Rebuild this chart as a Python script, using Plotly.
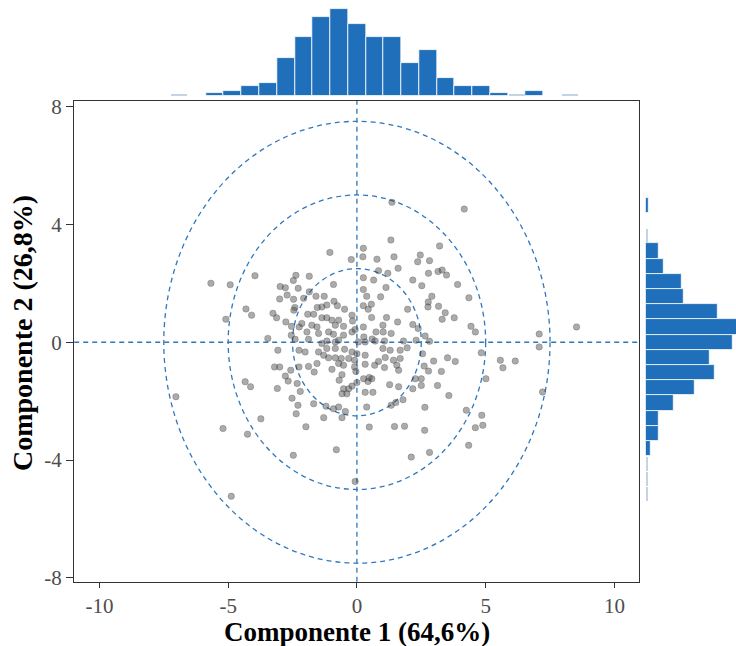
import plotly.graph_objects as go

# ---------------- data ----------------
pc1 = [
    -5.67, -4.92, -3.96, -2.37, -2.47, -2.98, -2.78, -2.28, -2.71, -3.00, -2.46, -2.41, -2.45, -4.31, -4.09, -5.09,
    -3.26, -3.12, -2.76, -2.54, -2.24, -2.55, -3.46, -2.40,
    1.36, 1.32, -1.05, 0.25, 0.23, -0.22, 0.78, 1.44, 1.60, 0.84, 1.20, 0.65, 0.25, 2.46, 3.21, 2.36, 2.82, 2.78,
    3.15, 3.31, 3.48, 2.17, 2.52, 1.13, 0.92, 0.25, 0.38, 0.25, 0.56, 0.44, 0.57, 1.15, 1.58, 1.97, 2.91, 2.77,
    2.76, 3.17, 3.43, 3.31, 2.17, 2.38, 2.65, 2.82, 2.30, 1.81, 1.01, 1.02, 1.33, 0.74, 0.25, 0.27, 0.59, -0.17,
    -0.19, -0.48, -0.76, -0.91, -1.85, -1.85, -1.59, -1.27, -2.07, -0.89, -1.17, -1.36, -1.54, -1.91, -1.68, -1.36,
    -1.17, -0.97, -0.71, -2.14, -1.75, -1.55, -0.84, -0.52, -1.94, -1.49, -1.10, -0.91, -0.52, -0.19, -0.07, -1.88,
    -1.17, -0.71, 0.32, 0.71, 1.07,
    4.17, 3.91, 4.35, 3.78, 4.43, 4.60, 7.08, 8.53, 7.08,
    -3.07, -2.25, -3.20, -3.00, -2.57, -2.78, -2.67, -2.32, -3.09, -4.34, -4.13, -7.03, -2.52, -2.29, -2.36, -3.73,
    -5.20, -4.25, -2.47, -4.88, -2.20, -2.25,
    -1.68, -1.20, -0.91, -0.71, -0.45, -1.29, -0.58, -1.98, -0.80, -0.07, 0.48, 1.46, 1.85, 2.63, 2.82, 2.11,
    0.38, 1.33, 1.51, 1.79, 2.64, 3.57, 3.13, 2.50, 2.17, 2.27, 2.50, 2.61, 2.78, 2.98, 3.28, 3.52, 2.55, 1.27,
    1.62, 0.62, 0.32, 1.07, 0.69, 0.32, 0.84, 1.10, 1.42, 1.55, 1.62, 1.68, 1.29, 1.68, 1.01, 1.95, 0.58, 0.48,
    0.26, 0.43, 0.00, -0.19, -0.32, -0.52, -0.39, -0.58, -0.69, -0.58, -0.97, -0.71, -0.52, -0.09, -0.04, -0.09,
    -0.32, -0.61, -1.10, -0.84, -1.29, -1.55, -1.88, -1.66, -1.49, -2.01, -1.17, -0.84, -0.48, -0.19, 0.00, 0.32,
    4.83, 5.57, 6.15, 5.67, 3.82, 5.01, 4.25, 4.85, 4.60, 4.89, 4.34, 7.21, -1.36, -0.84, 0.06,
]
pc2 = [
    2.00, 1.95, 2.26, 2.27, 2.10, 1.89, 1.85, 1.83, 1.60, 1.47, 1.46, 1.18, 1.09, 1.13, 0.92, 0.78,
    0.98, 0.83, 0.69, 0.54, 0.52, 0.24, 0.13, 0.10,
    4.75, 3.47, 3.05, 3.19, 2.90, 2.81, 2.82, 2.90, 2.51, 2.43, 2.34, 2.11, 2.19, 2.96, 3.27, 2.73, 2.77, 2.34,
    2.40, 2.45, 2.28, 2.11, 1.92, 1.86, 1.54, 1.79, 1.56, 1.24, 1.29, 1.12, 0.84, 0.84, 0.69, 1.12, 1.56, 1.37,
    1.20, 1.22, 1.00, 0.78, 0.60, 0.47, 0.21, 0.03, 0.07, 0.04, 0.58, 0.35, 0.30, 0.35, 0.52, 0.18, 0.11, 0.72,
    0.92, 1.12, 1.24, 1.96, 2.24, 1.71, 1.56, 1.56, 1.49, 1.39, 1.26, 1.20, 1.18, 0.95, 0.95, 0.83,
    0.83, 0.75, 0.75, 0.64, 0.58, 0.52, 0.58, 0.54, 0.35, 0.30, 0.35, 0.27, 0.24, 0.35, 0.43, 0.10,
    0.04, 0.07, 0.01, 0.04, 0.04,
    4.52, 1.96, 1.51, 0.83, 0.54, 0.35, 0.28, 0.52, -0.16,
    -0.27, -0.27, -0.84, -0.84, -0.95, -1.15, -1.32, -1.40, -1.57, -1.34, -1.51, -1.85, -1.90, -2.14, -2.43, -2.60,
    -2.93, -3.12, -3.84, -5.23, -1.67, -0.84,
    -2.09, -2.17, -2.26, -2.20, -2.35, -2.56, -2.56, -2.87, -3.65, -4.73, -2.88, -2.86, -2.85, -2.99, -3.74, -3.90,
    -2.20, -2.14, -2.05, -1.95, -2.21, -1.81, -1.47, -1.47, -1.58, -1.24, -1.24, -0.81, -0.98, -0.64, -0.99, -0.53, -0.39, -1.44,
    -1.51, -1.70, -1.70, -0.86, -0.78, -0.75, -0.65, -0.52, -0.61, -0.78, -0.95, -0.55, -0.27, -0.27, -0.21, -0.19, -1.24, -1.20,
    -1.24, -1.33, -1.37, -1.49, -1.58, -1.58, -1.75, -1.75, -1.29, -1.10, -0.92, -0.72, -0.78, -0.84, -0.99, -0.61,
    -0.55, -0.55, -0.53, -0.53, -0.44, -0.72, -0.82, -1.01, -0.33, -0.33, -0.21, -0.21, -0.24, -0.33, -0.39, -0.44,
    -0.36, -0.61, -0.64, -0.87, -0.65, -1.24, -2.31, -2.48, -2.90, -2.82, -3.50, -1.69, -0.04, 0.01, 0.01,
]

# marginal histogram of Componente 1 (bin centres and counts)
top_centers = [-5.52, -4.83, -4.14, -3.45, -2.76, -2.07, -1.38, -0.69, 0.00, 0.69, 1.38, 2.07,
               2.76, 3.45, 4.14, 4.83, 5.52, 6.90]
top_counts = [1, 2, 4, 5, 15, 23, 31, 34, 28, 23, 23, 13, 18, 7, 4, 4, 1, 2]
top_faint_centers = [-6.90, 6.21, 8.28]

# marginal histogram of Componente 2
right_centers = [4.64, 3.10, 2.58, 2.06, 1.55, 1.03, 0.52, 0.00, -0.52, -1.03, -1.55, -2.06,
                 -2.58, -3.10, -3.61]
right_counts = [1, 5, 7, 14, 15, 28, 38, 34, 25, 27, 19, 11, 5, 5, 2]
right_faint_centers = [3.61, -4.13, -4.64, -5.16]

radii = [2.5, 5.0, 7.5]

x_ticks = [-10, -5, 0, 5, 10]
x_ticktext = ["-10", "-5", "0", "5", "10"]
y_ticks = [-8, -4, 0, 4, 8]
y_ticktext = ["-8", "-4", "0", "4", "8"]

x_title = "Componente 1 (64,6%)"
y_title = "Componente 2 (26,8%)"

# ---------------- styling ----------------
W, H = 736, 646
BLUE = "#1f6fba"
FAINT = "#c3d4e6"
DASH = "#2f78bd"
SERIF = "Liberation Serif, Times New Roman, serif"

main_x_dom = [74.2 / W, 638.6 / W]
main_y_dom = [1 - 581.7 / H, 1 - 101 / H]
top_y_dom = [1 - 96 / H, 1.0]
right_x_dom = [645.7 / W, 1.0]

fig = go.Figure()

fig.add_trace(go.Scatter(
    x=pc1, y=pc2, mode="markers", xaxis="x", yaxis="y",
    marker=dict(size=6.5, color="rgba(68,68,68,0.45)", line=dict(width=0.6, color="rgba(50,50,50,0.4)")),
    hoverinfo="x+y", showlegend=False,
))

fig.add_trace(go.Bar(
    x=top_centers, y=top_counts, xaxis="x2", yaxis="y2", width=0.69,
    marker=dict(color=BLUE, line=dict(color="white", width=0.8)), showlegend=False,
))
fig.add_trace(go.Bar(
    x=top_faint_centers, y=[0.5] * len(top_faint_centers), xaxis="x2", yaxis="y2", width=0.62,
    marker=dict(color=FAINT, line=dict(width=0)), showlegend=False,
))
fig.add_trace(go.Bar(
    y=right_centers, x=right_counts, orientation="h", xaxis="x3", yaxis="y3", width=0.516,
    marker=dict(color=BLUE, line=dict(color="white", width=0.8)), showlegend=False,
))
fig.add_trace(go.Bar(
    y=right_faint_centers, x=[0.4] * len(right_faint_centers), orientation="h", xaxis="x3", yaxis="y3",
    width=0.46, marker=dict(color=FAINT, line=dict(width=0)), showlegend=False,
))

shapes = []
for r in radii:
    shapes.append(dict(type="circle", xref="x", yref="y", x0=-r, x1=r, y0=-r, y1=r,
                       line=dict(color=DASH, width=1.3, dash="5px,4px"), layer="below"))
shapes.append(dict(type="line", xref="x", yref="y domain", x0=0, x1=0, y0=0, y1=1,
                   line=dict(color=DASH, width=1.3, dash="5px,4px"), layer="below"))
shapes.append(dict(type="line", xref="x domain", yref="y", x0=0, x1=1, y0=0, y1=0,
                   line=dict(color=DASH, width=1.3, dash="5px,4px"), layer="below"))

tickfont = dict(family=SERIF, size=21, color="#4d4d4d")

fig.update_layout(
    template="none",
    width=W, height=H, autosize=False,
    margin=dict(l=0, r=0, t=0, b=0, pad=0, autoexpand=False),
    paper_bgcolor="white", plot_bgcolor="white",
    barmode="overlay", bargap=0,
    shapes=shapes,
    xaxis=dict(domain=main_x_dom, anchor="y", range=[-10.98, 10.94], automargin=False,
               tickmode="array", tickvals=x_ticks, ticktext=x_ticktext,
               ticks="outside", ticklen=5, tickwidth=1.2, tickcolor="#333",
               showline=True, mirror=True, linecolor="#333", linewidth=1.4,
               showgrid=False, zeroline=False, tickfont=tickfont),
    yaxis=dict(domain=main_y_dom, anchor="x", range=[-8.13, 8.19], automargin=False,
               tickmode="array", tickvals=y_ticks, ticktext=y_ticktext,
               ticks="outside", ticklen=7, tickwidth=1.2, tickcolor="#333",
               showline=True, mirror=True, linecolor="#333", linewidth=1.4,
               showgrid=False, zeroline=False, tickfont=tickfont),
    xaxis2=dict(domain=main_x_dom, anchor="y2", matches="x", visible=False, automargin=False),
    yaxis2=dict(domain=top_y_dom, anchor="x2", range=[0, 37.5], visible=False, automargin=False),
    xaxis3=dict(domain=right_x_dom, anchor="y3", range=[0, 35.3], visible=False, automargin=False),
    yaxis3=dict(domain=main_y_dom, anchor="x3", matches="y", visible=False, automargin=False),
    annotations=[
        dict(text=f"<b>{x_title}</b>", xref="paper", yref="paper", x=356.7 / W, y=1 - 632 / H,
             xanchor="center", yanchor="middle", showarrow=False,
             font=dict(family=SERIF, size=27, color="black")),
        dict(text=f"<b>{y_title}</b>", xref="paper", yref="paper", x=22 / W, y=1 - 333 / H,
             xanchor="center", yanchor="middle", showarrow=False, textangle=-90,
             font=dict(family=SERIF, size=28, color="black")),
    ],
)

fig.write_html("out.html")
